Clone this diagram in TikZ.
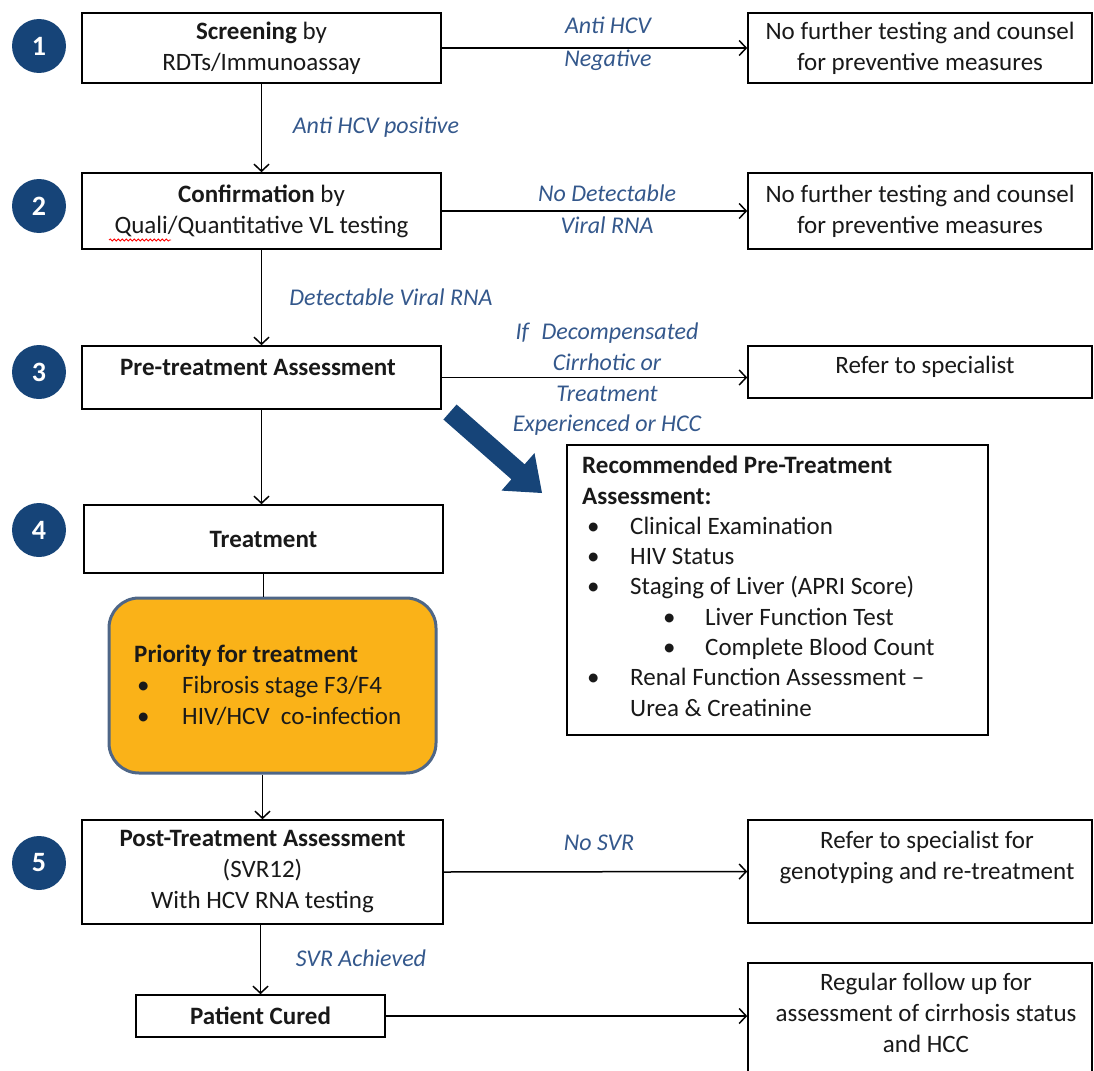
\documentclass[tikz,border=0pt]{standalone}
\usepackage{fontspec}
\setmainfont{Carlito}
\usetikzlibrary{arrows.meta,decorations.pathmorphing}
\definecolor{navy}{RGB}{22,68,120}
\definecolor{lblue}{RGB}{52,88,140}
\definecolor{ofill}{RGB}{250,178,24}
\definecolor{oedge}{RGB}{78,102,135}
\definecolor{txtc}{RGB}{25,25,25}
\begin{document}
\begin{tikzpicture}[x=1pt,y=-1pt,
  boxst/.style={draw=black, line width=1.6pt, inner sep=0pt, fill=white, text=txtc,
                font=\fontsize{25}{31}\selectfont, align=center},
  txt/.style={inner sep=0pt, text=txtc, font=\fontsize{25}{31}\selectfont, align=center},
  lbl/.style={inner sep=0pt, text=lblue, font=\fontsize{24}{31}\selectfont\itshape, align=center},
  num/.style={circle, fill=navy, minimum size=54pt, inner sep=0pt, text=white,
              font=\fontsize{28}{30}\selectfont\bfseries},
  conn/.style={draw=black, line width=1.5pt, -{Straight Barb[length=7pt,width=15pt]}},
  plain/.style={draw=black, line width=1.5pt},
]
\useasboundingbox (0,0) rectangle (1094,1070);
\clip (0,0) rectangle (1094,1070);

% step numbers
\node[num] (n1) at (39,46) {1};
\node[num] (n2) at (39,206) {2};
\node[num] (n3) at (39,372) {3};
\node[num] (n4) at (39,530) {4};
\node[num] (n5) at (39,863) {5};

% left column
\node[boxst, minimum width=359pt, minimum height=70pt] (b1) at (261.5,48)
  {\textbf{Screening} by\\RDTs/Immunoassay};
\node[boxst, minimum width=359pt, minimum height=76pt] (b2) at (261.5,211)
  {\textbf{Confirmation} by\\Quali/Quantitative VL testing};
\node[boxst, minimum width=359pt, minimum height=63pt] (b3) at (261.5,377.5) {};
\node[txt] (t3) at (258,367) {\textbf{Pre-treatment Assessment}};
\node[boxst, minimum width=359pt, minimum height=68pt] (b4) at (263.5,539) {\textbf{Treatment}};
\node[draw=oedge, line width=3pt, fill=ofill, rounded corners=30pt,
      minimum width=327pt, minimum height=175pt, inner sep=0pt] (or) at (272.5,685.5) {};
\node[txt, align=left, anchor=north west] (tor) at (134,645)
  {\textbf{Priority for treatment}\\
   \hspace*{3pt}\makebox[45pt][l]{\textbullet}Fibrosis stage F3/F4\\
   \hspace*{3pt}\makebox[45pt][l]{\textbullet}HIV/HCV\ \ co-infection};
\node[boxst, minimum width=361pt, minimum height=104pt] (b5) at (262.5,872)
  {\textbf{Post-Treatment Assessment}\\(SVR12)\\With HCV RNA testing};
\node[boxst, minimum width=249pt, minimum height=42pt] (cu) at (260.5,1016) {\textbf{Patient Cured}};

% right column
\node[boxst, minimum width=344pt, minimum height=70pt] (r1) at (920,48)
  {No further testing and counsel\\for preventive measures};
\node[boxst, minimum width=344pt, minimum height=76pt] (r2) at (920,211)
  {No further testing and counsel\\for preventive measures};
\node[boxst, minimum width=344pt, minimum height=52pt] (r3) at (920,372) {};
\node[txt] (tr3) at (925,367) {Refer to specialist};
\node[boxst, minimum width=421pt, minimum height=290pt] (rec) at (777.5,590) {};
\node[txt, align=left, anchor=north west, font=\fontsize{25}{30.3}\selectfont] (trec) at (582,456)
  {\textbf{Recommended Pre-Treatment}\\
   \textbf{Assessment:}\\
   \hspace*{5pt}\makebox[43pt][l]{\textbullet}Clinical Examination\\
   \hspace*{5pt}\makebox[43pt][l]{\textbullet}HIV Status\\
   \hspace*{5pt}\makebox[43pt][l]{\textbullet}Staging of Liver (APRI Score)\\
   \hspace*{81pt}\makebox[42pt][l]{\textbullet}Liver Function Test\\
   \hspace*{81pt}\makebox[42pt][l]{\textbullet}Complete Blood Count\\
   \hspace*{5pt}\makebox[43pt][l]{\textbullet}Renal Function Assessment --\\
   \hspace*{48pt}Urea \& Creatinine};
\node[boxst, minimum width=344pt, minimum height=103pt] (r5) at (920,871.5) {};
\node[txt] (tr5) at (927,857) {Refer to specialist for\\genotyping and re-treatment};
\node[boxst, minimum width=344pt, minimum height=122pt] (r6) at (920,1024) {};
\node[txt] (tr6) at (926,1013) {Regular follow up for\\assessment of cirrhosis status\\and HCC};

% spelling underline
\draw[red, line width=0.8pt, decorate, decoration={snake, amplitude=1.1pt, segment length=4pt}]
  (109,240) -- (171,240);

% big arrow to recommended assessment
\fill[navy] (456.6,404.5) -- (524.6,464.3) -- (534.5,453.1) -- (542,493)
  -- (501.5,490.6) -- (511.4,479.3) -- (443.4,419.5) -- cycle;

% connectors
\draw[conn] (b1.east) -- (r1.west);
\draw[conn] (b1.south) -- (b2.north);
\draw[conn] (b2.east) -- (r2.west);
\draw[conn] (b2.south) -- (b3.north);
\draw[conn] (b3.east) -- (b3.east -| r3.west);
\draw[conn] (b3.south) -- (b3.south |- b4.north);
\draw[plain] (b4.south) -- (b4.south |- or.north);
\draw[conn] (b5.north |- or.south) -- (b5.north);
\draw[conn] (b5.east) -- (r5.west);
\draw[conn] (cu.north |- b5.south) -- (cu.north);
\draw[conn] (cu.east) -- (cu.east -| r6.west);

% labels
\node[lbl, font=\fontsize{24}{33}\selectfont\itshape] (l1) at (608,44) {Anti HCV\\Negative};
\node[lbl] (l2) at (376,127) {Anti HCV positive};
\node[lbl, font=\fontsize{24}{32}\selectfont\itshape] (l3) at (607,209) {No Detectable\\Viral RNA};
\node[lbl] (l4) at (391,297) {Detectable Viral RNA};
\node[lbl, font=\fontsize{24}{30.7}\selectfont\itshape] (l5) at (607,379.5)
  {If\hspace{0.3em} Decompensated\\Cirrhotic or\\Treatment\\Experienced or HCC};
\node[lbl] (l6) at (599,843) {No SVR};
\node[lbl] (l7) at (361,958) {SVR Achieved};
\end{tikzpicture}
\end{document}
